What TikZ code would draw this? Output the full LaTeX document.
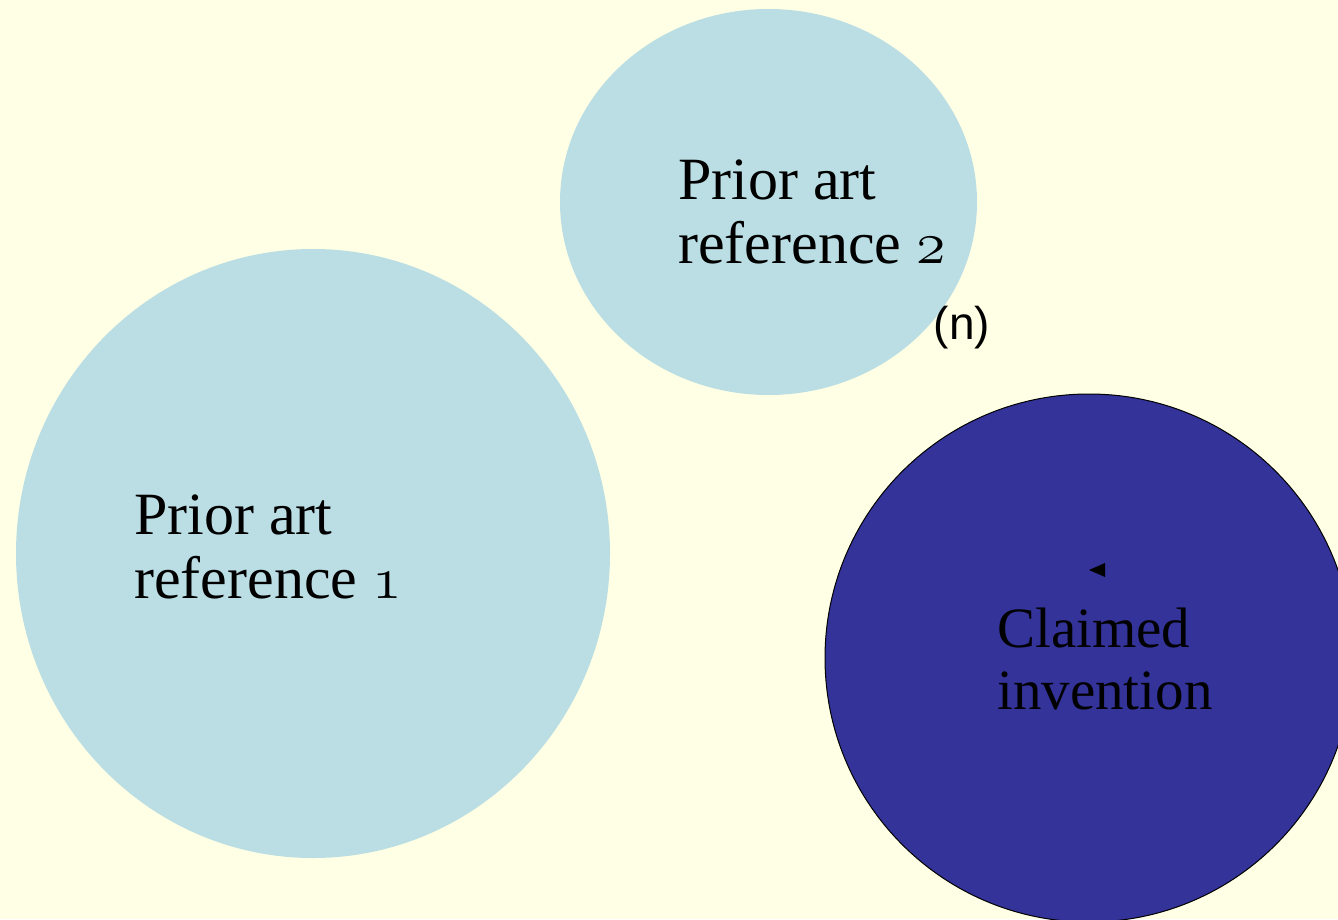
\RequirePackage{fix-cm}
\documentclass[tikz,border=0pt]{standalone}
\usepackage{fontspec}
\setmainfont{Liberation Serif}
\newfontfamily\arialfont{Liberation Sans}
\definecolor{bgyellow}{HTML}{FFFFE5}
\definecolor{lightblue}{HTML}{BADEE4}
\definecolor{darkblue}{HTML}{333399}
\newcommand\osn[1]{$\mathnormal{#1}$}
\begin{document}
\begin{tikzpicture}[x=1pt,y=-1pt,
  priorlbl/.style={font=\fontsize{60}{64}\selectfont, align=left, inner sep=0pt, anchor=base west},
  claimlbl/.style={font=\fontsize{57}{62}\selectfont, align=left, inner sep=0pt, anchor=base west},
  lightcirc/.style={fill=lightblue, draw=none},
  darkcirc/.style={fill=darkblue, draw=black, line width=1pt}]
\fill[bgyellow] (0,0) rectangle (1338,919);
\useasboundingbox (0,0) rectangle (1338,919);
\fill[lightcirc] (313,553.5) ellipse [x radius=297, y radius=304.5];
\fill[lightcirc] (768.5,202) ellipse [x radius=208.5, y radius=193];
\filldraw[darkcirc] (1089,658) ellipse [x radius=264, y radius=264];
\fill[black] (1089,570) -- (1105,563) -- (1105,577) -- cycle;
\node[priorlbl] (ref2) at (678,263) {Prior art\\reference \osn{2}};
\node[priorlbl] (ref1) at (134,598) {Prior art\\reference \osn{1}};
\node[claimlbl] (claim) at (997,709) {Claimed\\invention};
\node[font=\arialfont\fontsize{46}{50}\selectfont, inner sep=0pt] (n) at (962,328) {(n)};
\end{tikzpicture}
\end{document}
